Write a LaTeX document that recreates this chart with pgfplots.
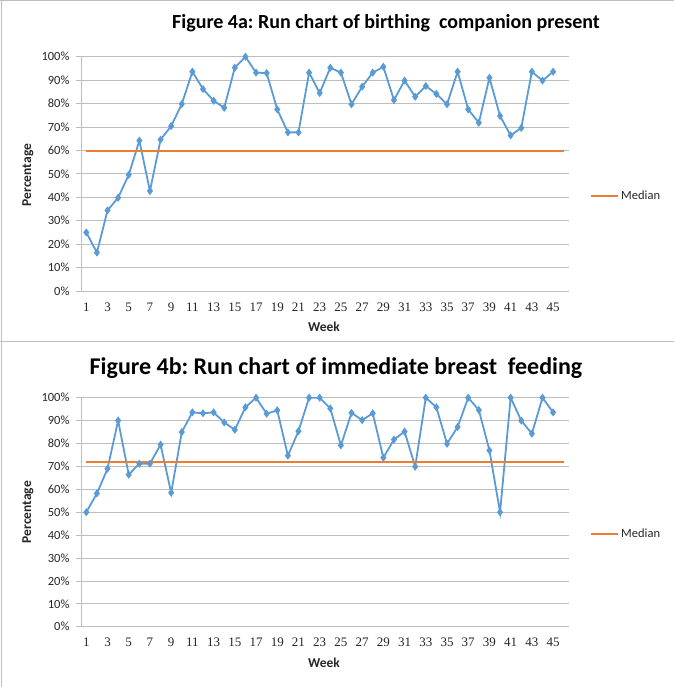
\documentclass[border=0pt]{standalone}
\usepackage{fontspec}
\setmainfont{Carlito}
\newfontfamily\tickserif{Liberation Serif}
\usepackage{pgfplots}
\pgfplotsset{compat=1.18}
\frenchspacing
\definecolor{xlblue}{RGB}{91,155,213}
\definecolor{xlorange}{RGB}{237,125,49}
\definecolor{xlgrid}{RGB}{190,190,190}
\pgfplotsset{
  runchart/.style={
    scale only axis,
    width=488pt,
    xmin=0.5, xmax=46.5, ymin=0, ymax=100,
    axis lines=left,
    axis line style={-, draw=xlgrid, line width=0.8pt},
    xtick={1,3,...,45},
    ytick={0,10,...,100},
    ymajorgrids,
    grid style={xlgrid, line width=0.8pt},
    tick align=outside,
    major tick length=5pt,
    xtick style={draw=none},
    ytick style={draw=xlgrid, line width=0.8pt},
    yticklabel={\pgfmathprintnumber[assume math mode=true]{\tick}\%},
    xticklabel={\pgfmathprintnumber[assume math mode=true]{\tick}},
    yticklabel style={font=\fontsize{12.5}{13}\selectfont, text=black!85, xshift=-3pt},
    xticklabel style={font=\tickserif\fontsize{13}{14}\selectfont, text=black!85, yshift=-3pt},
    xlabel={Week},
    ylabel={Percentage},
    label style={font=\fontsize{13.5}{14}\selectfont\bfseries, text=black!85},
    legend style={draw=none, fill=none, font=\fontsize{12.5}{13}\selectfont, text=black!85,
      anchor=west, inner sep=0pt},
    legend image code/.code={\draw[#1, line width=2pt] (0pt,0pt) -- (27pt,0pt);},
  },
  series/.style={color=xlblue, line width=1.8pt, mark=diamond*, mark size=2.6pt, mark options={solid}},
  median/.style={color=xlorange, line width=2pt, mark=none},
}
\begin{document}
\begin{tikzpicture}
\useasboundingbox (0,0) rectangle (674pt,-687pt);
\draw[xlgrid, line width=1pt] (1pt,0pt) -- (1pt,-687pt);
\draw[xlgrid, line width=1pt] (0pt,-0.5pt) -- (674pt,-0.5pt);
\draw[xlgrid, line width=1pt] (0pt,-341pt) -- (674pt,-341pt);
\node[font=\fontsize{20}{22}\selectfont\bfseries] at (386pt,-23pt) {Figure 4a: Run chart of birthing\ \ companion present};
\node[font=\fontsize{24}{26}\selectfont\bfseries] at (336pt,-368pt) {Figure 4b: Run chart of immediate breast\ \ feeding};
\begin{axis}[runchart, height=234.3pt, at={(81pt,-291pt)}, anchor=south west,
  xlabel style={at={(axis description cs:0.498,-0.1537)}, anchor=center},
  ylabel style={at={(axis description cs:-0.1086,0.495)}, anchor=center, rotate=0},
  legend style={at={(axis description cs:1.043,0.405)}}]
\addplot[series, forget plot] coordinates {
(1,25) (2,16.4) (3,34.4) (4,39.8) (5,49.6) (6,64.2) (7,42.7) (8,64.6) (9,70.4) (10,79.8)
(11,93.6) (12,86.2) (13,81.2) (14,78.2) (15,95.3) (16,100) (17,93.2) (18,93) (19,77.5) (20,67.7)
(21,67.7) (22,93.2) (23,84.5) (24,95.3) (25,93.2) (26,79.7) (27,87.2) (28,93.2) (29,95.7) (30,81.5)
(31,89.8) (32,82.9) (33,87.5) (34,84.1) (35,79.7) (36,93.6) (37,77.5) (38,71.8) (39,91) (40,74.7)
(41,66.4) (42,69.6) (43,93.6) (44,89.8) (45,93.6)};
\addplot[median] coordinates {(1,59.7) (46,59.7)};
\addlegendentry{Median}
\end{axis}
\begin{axis}[runchart, height=229pt, at={(81pt,-626.7pt)}, anchor=south west,
  xlabel style={at={(axis description cs:0.498,-0.1585)}, anchor=center},
  ylabel style={at={(axis description cs:-0.1086,0.50)}, anchor=center, rotate=0},
  legend style={at={(axis description cs:1.043,0.405)}}]
\addplot[series, forget plot] coordinates {
(1,50) (2,58.2) (3,69) (4,90) (5,66.4) (6,71.2) (7,71.2) (8,79.5) (9,58.5) (10,85)
(11,93.6) (12,93.2) (13,93.6) (14,89.2) (15,86) (16,95.8) (17,100) (18,93) (19,94.5) (20,74.7)
(21,85.4) (22,100) (23,100) (24,95.3) (25,79.2) (26,93.4) (27,90.2) (28,93.2) (29,73.8) (30,81.7)
(31,85.2) (32,69.9) (33,100) (34,95.8) (35,79.9) (36,87.2) (37,100) (38,94.6) (39,77) (40,50)
(41,100) (42,90) (43,84.3) (44,100) (45,93.6)};
\addplot[median] coordinates {(1,71.9) (46,71.9)};
\addlegendentry{Median}
\end{axis}
\end{tikzpicture}
\end{document}
